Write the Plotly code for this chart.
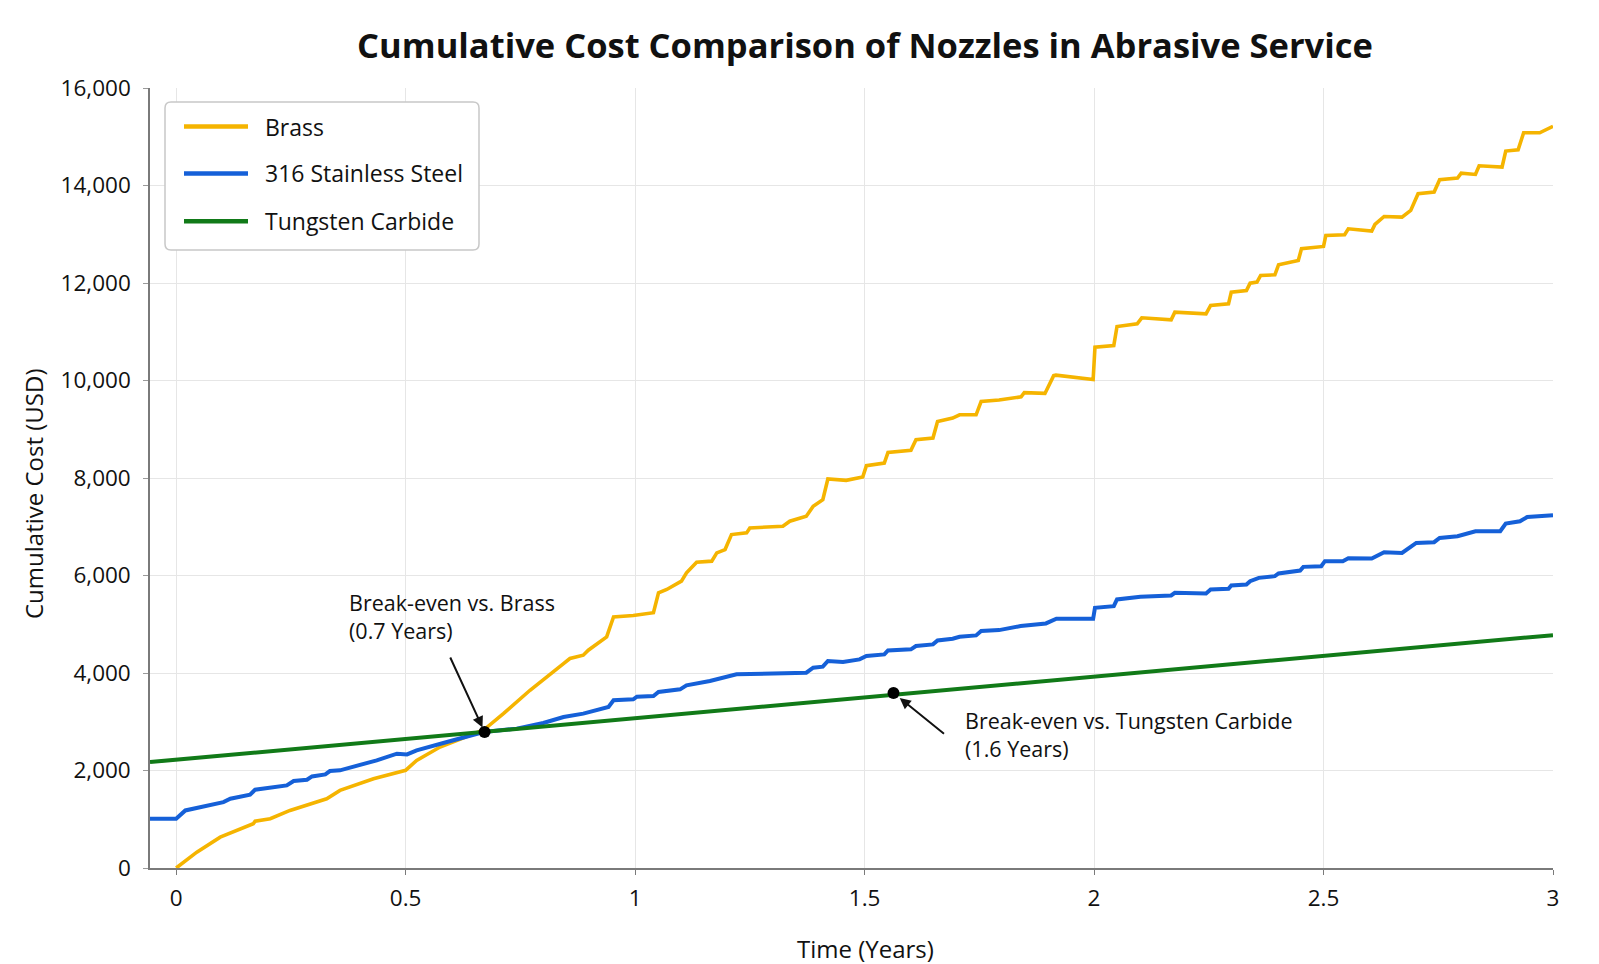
import plotly.graph_objects as go

# ---------------- data ----------------
brass_years = [0, 0.045, 0.096, 0.139, 0.168, 0.172, 0.205, 0.248, 0.285, 0.328, 0.357, 0.43, 0.5,
               0.524, 0.575, 0.67, 0.713, 0.771, 0.844, 0.858, 0.887, 0.898, 0.938, 0.953, 0.996,
               1.04, 1.051, 1.069, 1.101, 1.112, 1.134, 1.167, 1.178, 1.196, 1.21, 1.243, 1.25,
               1.322, 1.337, 1.373, 1.388, 1.409, 1.42, 1.46, 1.496, 1.504, 1.543, 1.551, 1.601,
               1.612, 1.649, 1.659, 1.692, 1.707, 1.743, 1.754, 1.793, 1.841, 1.848, 1.893, 1.912,
               1.917, 1.998, 2.002, 2.043, 2.05, 2.094, 2.104, 2.168, 2.176, 2.244, 2.254, 2.293,
               2.299, 2.332, 2.34, 2.355, 2.363, 2.394, 2.402, 2.445, 2.452, 2.5, 2.505, 2.546,
               2.554, 2.605, 2.612, 2.632, 2.671, 2.69, 2.706, 2.741, 2.753, 2.792, 2.8, 2.831,
               2.839, 2.889, 2.897, 2.924, 2.936, 2.971, 3.0]
brass_cost = [0, 325, 633, 805, 908, 962, 1010, 1181, 1284, 1421, 1592, 1832, 2003,
              2208, 2481, 2830, 3167, 3646, 4194, 4297, 4365, 4467, 4741, 5150, 5181,
              5236, 5645, 5713, 5884, 6055, 6273, 6294, 6464, 6532, 6840, 6874, 6976,
              7010, 7113, 7215, 7420, 7556, 7980, 7952, 8020, 8253, 8307, 8526, 8567,
              8785, 8819, 9160, 9229, 9297, 9297, 9570, 9600, 9665, 9750, 9735, 10100,
              10110, 10020, 10684, 10718, 11108, 11163, 11286, 11245, 11402, 11368, 11539, 11573,
              11813, 11847, 11997, 12018, 12155, 12168, 12373, 12462, 12702, 12750, 12975, 12989,
              13112, 13064, 13201, 13365, 13351, 13488, 13830, 13865, 14118, 14152, 14254, 14227,
              14405, 14378, 14706, 14733, 15082, 15082, 15215]

steel_years = [-0.057, 0, 0.02, 0.052, 0.103, 0.118, 0.161, 0.172, 0.241, 0.256, 0.285, 0.296,
               0.325, 0.335, 0.357, 0.437, 0.481, 0.503, 0.524, 0.59, 0.67, 0.742, 0.8, 0.844,
               0.887, 0.942, 0.953, 0.996, 1.004, 1.04, 1.051, 1.098, 1.112, 1.163, 1.21, 1.221,
               1.373, 1.388, 1.409, 1.42, 1.453, 1.489, 1.504, 1.543, 1.551, 1.601, 1.612, 1.649,
               1.659, 1.692, 1.707, 1.743, 1.754, 1.793, 1.84, 1.895, 1.918, 1.998, 2.002, 2.043,
               2.05, 2.101, 2.168, 2.176, 2.244, 2.254, 2.293, 2.299, 2.332, 2.34, 2.359, 2.394,
               2.402, 2.449, 2.456, 2.495, 2.503, 2.542, 2.554, 2.605, 2.632, 2.671, 2.702, 2.741,
               2.753, 2.792, 2.831, 2.885, 2.897, 2.928, 2.944, 3.0]
steel_cost = [1010, 1010, 1181, 1249, 1352, 1421, 1503, 1606, 1695, 1784, 1811, 1879,
              1920, 1989, 2003, 2208, 2345, 2330, 2414, 2584, 2789, 2859, 2975, 3098,
              3167, 3303, 3440, 3460, 3515, 3529, 3611, 3665, 3747, 3836, 3952, 3973,
              4007, 4109, 4130, 4246, 4225, 4280, 4348, 4382, 4464, 4485, 4553, 4587,
              4669, 4703, 4744, 4771, 4860, 4880, 4962, 5017, 5113, 5113, 5338, 5372,
              5509, 5563, 5590, 5645, 5631, 5713, 5727, 5795, 5816, 5884, 5952, 5986,
              6041, 6102, 6177, 6191, 6294, 6294, 6355, 6348, 6478, 6464, 6669, 6683,
              6771, 6805, 6908, 6908, 7065, 7113, 7201, 7235]

carbide_years = [-0.057, 3.0]
carbide_cost = [2173, 4776]

breakeven_years = [0.672, 1.563]
breakeven_cost = [2790, 3590]

x_ticks = [0, 0.5, 1, 1.5, 2, 2.5, 3]
x_tick_labels = ["0", "0.5", "1", "1.5", "2", "2.5", "3"]
y_ticks = [0, 2000, 4000, 6000, 8000, 10000, 12000, 14000, 16000]
y_tick_labels = ["0", "2,000", "4,000", "6,000", "8,000", "10,000", "12,000", "14,000", "16,000"]

series_names = ["Brass", "316 Stainless Steel", "Tungsten Carbide"]
series_colors = ["#F5B400", "#1560D8", "#117A18"]

# ---------------- layout geometry ----------------
W, H = 1599, 964
ML, MR, MT, MB = 150, 46, 88, 96
PW = W - ML - MR
PH = H - MT - MB
FONT = "Open Sans"


def px(xp):
    return (xp - ML) / PW


def py(yp):
    return (H - MB - yp) / PH


fig = go.Figure()
for name, xs, ys, col, w in [
    (series_names[0], brass_years, brass_cost, series_colors[0], 3.6),
    (series_names[1], steel_years, steel_cost, series_colors[1], 4.0),
    (series_names[2], carbide_years, carbide_cost, series_colors[2], 4.0),
]:
    fig.add_trace(go.Scatter(x=xs, y=ys, mode="lines", name=name,
                             line=dict(color=col, width=w), showlegend=False))

fig.add_trace(go.Scatter(x=breakeven_years, y=breakeven_cost, mode="markers",
                         marker=dict(color="black", size=12), showlegend=False,
                         name="Break-even"))

annotations = [
    dict(x=breakeven_years[0], y=breakeven_cost[0], ax=-35, ay=-76, text="", showarrow=True,
         arrowhead=2, arrowsize=1.1, arrowwidth=2, arrowcolor="#111", standoff=5),
    dict(x=breakeven_years[1], y=breakeven_cost[1], ax=52, ay=42, text="", showarrow=True,
         arrowhead=2, arrowsize=1.1, arrowwidth=2, arrowcolor="#111", standoff=8),
    dict(x=0.373, y=5166, text="Break-even vs. Brass<br>(0.7 Years)", showarrow=False,
         xanchor="left", yanchor="middle", align="left",
         font=dict(family=FONT, size=21.5, color="#111")),
    dict(x=1.715, y=2732, text="Break-even vs. Tungsten Carbide<br>(1.6 Years)", showarrow=False,
         xanchor="left", yanchor="middle", align="left",
         font=dict(family=FONT, size=21.5, color="#111")),
    # axis titles
    dict(xref="paper", yref="paper", x=px(34), y=py(494), text="Cumulative Cost (USD)",
         textangle=-90, showarrow=False, xanchor="center", yanchor="middle",
         font=dict(family=FONT, size=24, color="#111")),
    dict(xref="paper", yref="paper", x=px(865), y=py(948), text="Time (Years)",
         showarrow=False, xanchor="center", yanchor="middle",
         font=dict(family=FONT, size=24, color="#111")),
]

# custom legend (rounded box, long line samples)
lx0, lx1, ly0, ly1, r = 165, 479, 102, 250, 6
rx = r / PW
ry = r / PH
X0, X1, Y0, Y1 = px(lx0), px(lx1), py(ly1), py(ly0)
path = (f"M {X0+rx},{Y0} L {X1-rx},{Y0} Q {X1},{Y0} {X1},{Y0+ry} L {X1},{Y1-ry} "
        f"Q {X1},{Y1} {X1-rx},{Y1} L {X0+rx},{Y1} Q {X0},{Y1} {X0},{Y1-ry} L {X0},{Y0+ry} "
        f"Q {X0},{Y0} {X0+rx},{Y0} Z")
shapes = [dict(type="path", xref="paper", yref="paper", path=path,
               line=dict(color="#c8c8c8", width=1.5), fillcolor="white", layer="above")]
rows = [126.5, 173.4, 221.3]
for name, col, yy in zip(series_names, series_colors, rows):
    shapes.append(dict(type="line", xref="paper", yref="paper", x0=px(184), x1=px(248),
                       y0=py(yy), y1=py(yy), line=dict(color=col, width=4.5), layer="above"))
    annotations.append(dict(xref="paper", yref="paper", x=px(263), y=py(yy), text=name,
                            showarrow=False, xanchor="left", yanchor="middle",
                            font=dict(family=FONT, size=23, color="#111")))

fig.update_layout(
    width=W, height=H,
    margin=dict(l=ML, r=MR, t=MT, b=MB, pad=0),
    paper_bgcolor="white", plot_bgcolor="white",
    font=dict(family=FONT, color="#111"),
    title=dict(text="<b>Cumulative Cost Comparison of Nozzles in Abrasive Service</b>",
               x=865 / W, xref="container", xanchor="center",
               y=1 - 46 / H, yref="container", yanchor="middle",
               font=dict(family=FONT, size=34.5, color="#111")),
    xaxis=dict(range=[-0.057, 3.0], tickvals=x_ticks, ticktext=x_tick_labels,
               showgrid=True, gridcolor="#e6e6e6", gridwidth=1, zeroline=False,
               showline=True, linecolor="#7a7a7a", linewidth=1.5, automargin=False,
               ticks="outside", ticklen=5, tickcolor="#7a7a7a", ticklabelstandoff=4,
               tickfont=dict(family=FONT, size=22.5, color="#111")),
    yaxis=dict(range=[0, 16000], tickvals=y_ticks, ticktext=y_tick_labels,
               showgrid=True, gridcolor="#e6e6e6", gridwidth=1, zeroline=False,
               showline=True, linecolor="#7a7a7a", linewidth=1.5, automargin=False,
               ticks="outside", ticklen=5, tickcolor="#9a9a9a", ticklabelstandoff=8,
               tickfont=dict(family=FONT, size=22.5, color="#111")),
    shapes=shapes,
    annotations=annotations,
    showlegend=False,
)

fig.write_html("out.html")
